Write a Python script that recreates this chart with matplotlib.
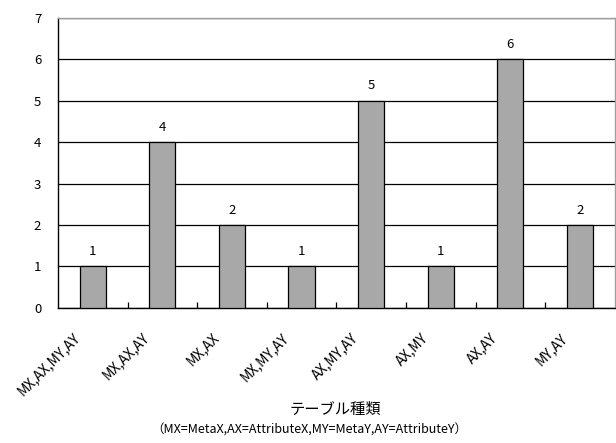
import numpy as np
import matplotlib
matplotlib.use('Agg')
import matplotlib.pyplot as plt
from matplotlib.transforms import ScaledTranslation

plt.rcParams['font.family'] = ['Noto Sans CJK JP', 'DejaVu Sans']

# table types and how many of each
categories = ['MX,AX,MY,AY', 'MX,AX,AY', 'MX,AX', 'MX,MY,AY', 'AX,MY,AY', 'AX,MY', 'AX,AY', 'MY,AY']
counts = [1, 4, 2, 1, 5, 1, 6, 2]
yticks = [0, 1, 2, 3, 4, 5, 6, 7]

fig = plt.figure(figsize=(6.16, 4.43), dpi=100)
ax = fig.add_axes([0.094, 0.305, 0.904, 0.655])

x = np.arange(len(categories))
bars = ax.bar(x, counts, width=0.375, color='#a8a8a8', edgecolor='black', linewidth=0.9, zorder=3)
for xi, v in zip(x, counts):
    ax.text(xi, v + 0.2, str(v), ha='center', va='bottom', fontsize=9.5, zorder=4)

ax.set_xlim(-0.5, len(categories) - 0.5)
ax.set_ylim(0, 7)
ax.set_yticks(yticks)
ax.yaxis.grid(True, color='black', linewidth=0.9, zorder=0)
ax.tick_params(axis='y', length=0, labelsize=9.5, pad=12)

# category labels at bar centres, small ticks at the boundaries
ax.set_xticks(x)
ax.set_xticklabels(categories, rotation=45, ha='right', rotation_mode='anchor', fontsize=10)
ax.tick_params(axis='x', which='major', length=0, pad=10)
shift = ScaledTranslation(-0.2, -0.09, fig.dpi_scale_trans)
for lbl in ax.get_xticklabels():
    lbl.set_transform(lbl.get_transform() + shift)
ax.set_xticks(np.arange(0.5, len(categories) - 0.5), minor=True)
ax.tick_params(axis='x', which='minor', direction='in', length=4, width=0.9)

for s in ['left', 'bottom']:
    ax.spines[s].set_color('black')
    ax.spines[s].set_linewidth(1.0)
for s in ['top', 'right']:
    ax.spines[s].set_color('#a0a0a0')
    ax.spines[s].set_linewidth(1.0)

fig.text(0.545, 0.075, 'テーブル種類', ha='center', va='center', fontsize=11)
fig.text(0.502, 0.03, '（MX=MetaX,AX=AttributeX,MY=MetaY,AY=AttributeY）', ha='center', va='center', fontsize=9)

fig.savefig('out.png', dpi=100)
